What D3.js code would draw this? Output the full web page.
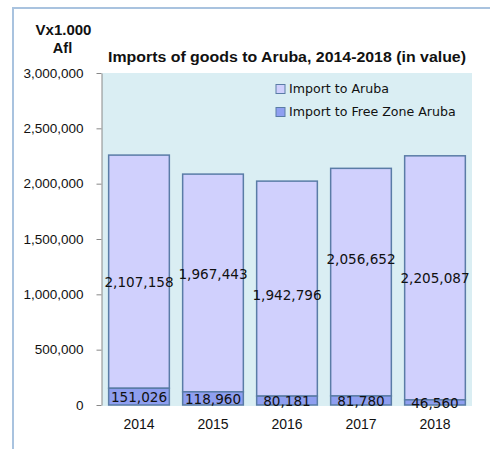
<!DOCTYPE html>
<html><head><meta charset="utf-8">
<script src="https://cdn.jsdelivr.net/npm/d3@7"></script>
<style>body{margin:0;background:#fff}svg{display:block}</style>
</head><body>
<svg id="c" width="490" height="449"></svg>
<script>
const years = ["2014","2015","2016","2017","2018"];
const importFreeZone = [151026,118960,80181,81780,46560];
const importAruba = [2107158,1967443,1942796,2056652,2205087];
const arubaLabelAt = [1111000,1184000,994000,1319000,1148000];
const yTicks = [0,500000,1000000,1500000,2000000,2500000,3000000];
const seriesNames = ["Import to Aruba","Import to Free  Zone Aruba"];

const svg = d3.select("#c");
const m={l:102,r:472,t:73,b:405};
const SANS="'Liberation Sans',Arial,sans-serif";
const DV="'DejaVu Sans',sans-serif";
// outer frame
svg.append("path").attr("d","M13,449 L13,8 L490,8").attr("fill","none").attr("stroke","#a9c3df").attr("stroke-width",2);

const x = d3.scaleBand().domain(years).range([m.l,m.r]).paddingInner(0.18).paddingOuter(0.09);
const y = d3.scaleLinear().domain([0,3000000]).range([m.b,m.t]);

svg.append("rect").attr("x",m.l).attr("y",m.t).attr("width",m.r-m.l).attr("height",m.b-m.t+1).attr("fill","#daeef3");

const fmt = d3.format(",");
const yAxis = d3.axisLeft(y).tickValues(yTicks).tickFormat(fmt).tickSize(5).tickSizeOuter(0).tickPadding(13);
const ga = svg.append("g").attr("transform",`translate(${m.l-0.5},0)`).call(yAxis);
ga.selectAll("path,line").attr("stroke","#888");
ga.selectAll("text").attr("font-family",SANS).attr("font-size",13.5).attr("fill","#111");

const edge="#5a7ca6";
const fills=["#d0d0fd","#8f9ff0"];
years.forEach((yr,i)=>{
  const fz=importFreeZone[i], ar=importAruba[i];
  svg.append("rect").attr("x",x(yr)).attr("y",y(fz+ar)).attr("width",x.bandwidth()).attr("height",y(fz)-y(fz+ar))
    .attr("fill",fills[0]).attr("stroke",edge).attr("stroke-width",1.5);
  svg.append("rect").attr("x",x(yr)).attr("y",y(fz)).attr("width",x.bandwidth()).attr("height",y(0)-y(fz))
    .attr("fill",fills[1]).attr("stroke",edge).attr("stroke-width",1.5);
  const cx = x(yr)+x.bandwidth()/2;
  svg.append("text").attr("x",cx).attr("y",y(arubaLabelAt[i])).attr("dy","0.35em").attr("text-anchor","middle")
    .attr("font-family",DV).attr("font-size",13.6).attr("fill","#111").text(fmt(ar));
  svg.append("text").attr("x",cx).attr("y",(y(fz)+y(0))/2+1).attr("dy","0.35em").attr("text-anchor","middle")
    .attr("font-family",DV).attr("font-size",13.6).attr("fill","#111").text(fmt(fz));
  svg.append("text").attr("x",cx).attr("y",424).attr("dy","0.35em").attr("text-anchor","middle")
    .attr("font-family",SANS).attr("font-size",14).attr("fill","#111").text(yr);
});

// legend
const lg = svg.append("g");
seriesNames.forEach((n,i)=>{
  const ly=89+i*23;
  lg.append("rect").attr("x",276).attr("y",ly-4.5).attr("width",9).attr("height",9).attr("fill",fills[i]).attr("stroke",edge).attr("stroke-width",1);
  lg.append("text").attr("x",289).attr("y",ly).attr("dy","0.35em").attr("font-family",DV).attr("font-size",12.6).attr("fill","#111").text(n);
});

// titles
svg.append("text").attr("x",108).attr("y",57).attr("dy","0.35em")
  .attr("font-family",SANS).attr("font-weight","bold").attr("font-size",14.5).attr("fill","#111")
  .attr("textLength",358).attr("lengthAdjust","spacingAndGlyphs")
  .text("Imports of goods to Aruba, 2014-2018 (in value)");
svg.append("text").attr("x",63.5).attr("y",30).attr("dy","0.35em").attr("text-anchor","middle")
  .attr("font-family",SANS).attr("font-weight","bold").attr("font-size",15).attr("fill","#111").text("Vx1.000");
svg.append("text").attr("x",62.5).attr("y",48).attr("dy","0.35em").attr("text-anchor","middle")
  .attr("font-family",SANS).attr("font-weight","bold").attr("font-size",14.5).attr("fill","#111").text("Afl");
</script>
</body></html>
